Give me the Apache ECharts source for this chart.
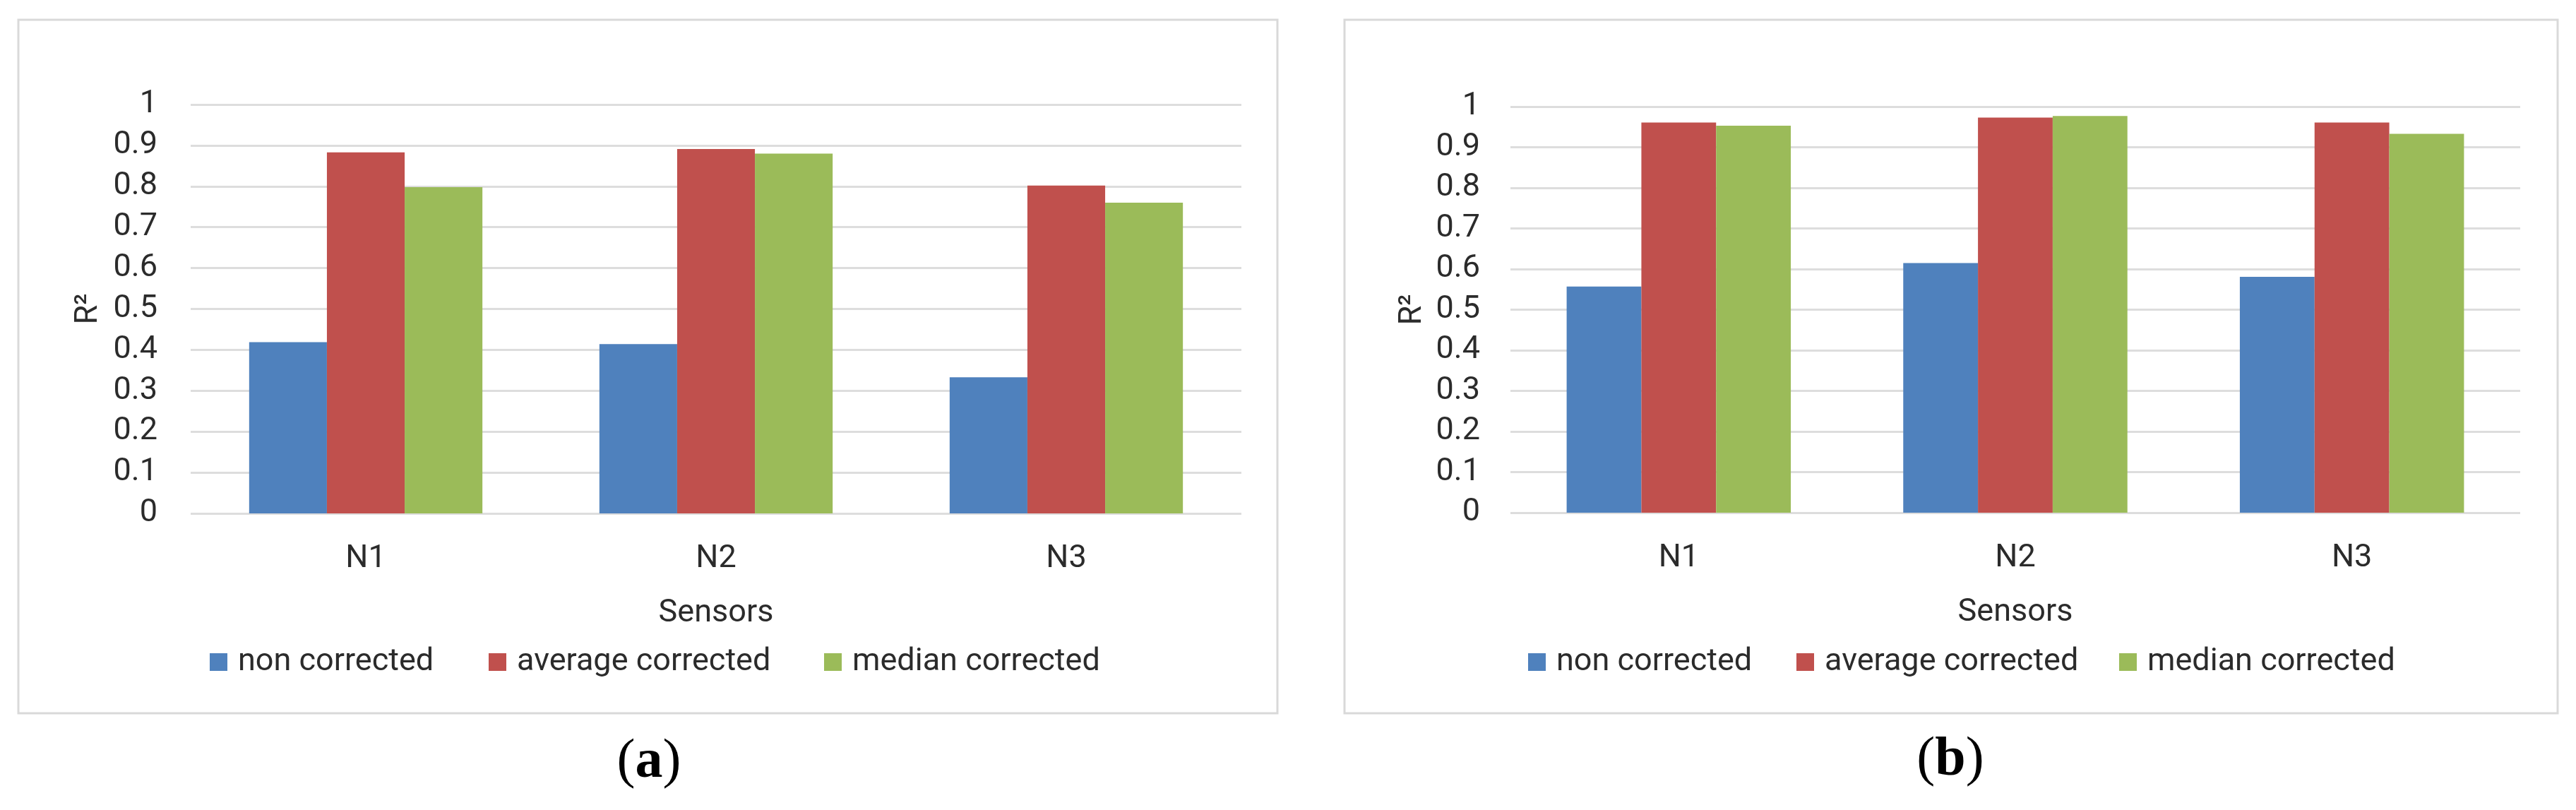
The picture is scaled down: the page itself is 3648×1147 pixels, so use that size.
<!DOCTYPE html>
<html>
<head>
<meta charset="utf-8">
<script src="https://cdn.jsdelivr.net/npm/echarts@6/dist/echarts.min.js"></script>
<style>
html,body{margin:0;padding:0;background:#fff;}
#c{width:3648px;height:1147px;}
</style>
</head>
<body>
<div id="c"></div>
<script>
// ---- data ----
const categories = ['N1', 'N2', 'N3'];
const seriesNames = ['non corrected', 'average corrected', 'median corrected'];
const yTicks = [0, 0.1, 0.2, 0.3, 0.4, 0.5, 0.6, 0.7, 0.8, 0.9, 1];
// panel (a)
const aNonCorrected = [0.419, 0.414, 0.333];
const aAverageCorrected = [0.883, 0.891, 0.802];
const aMedianCorrected = [0.798, 0.880, 0.760];
// panel (b)
const bNonCorrected = [0.557, 0.615, 0.581];
const bAverageCorrected = [0.961, 0.973, 0.961];
const bMedianCorrected = [0.953, 0.977, 0.933];
const xAxisTitle = 'Sensors';
const yAxisTitle = 'R²';
const captions = ['a', 'b'];

// ---- style ----
const colors = ['#4F81BD', '#C0504D', '#9BBB59'];
const FONT = "Roboto, 'Noto Sans', sans-serif";
const FS = 45;
const TXT = '#2b2b2b';
const GRIDC = '#DDDDDD';

const chart = echarts.init(document.getElementById('c'), null, {renderer: 'canvas'});

const panels = [
  {grid: {left: 270, right: 3648 - 1758, top: 148, bottom: 1147 - 727}, labelMargin: 47, nameGap: 122,
   data: [aNonCorrected, aAverageCorrected, aMedianCorrected], legendX: [297, 692, 1167], legendY: 915,
   border: [26, 28, 1809 - 26, 1010 - 28], cap: [919, 1080]},
  {grid: {left: 2139, right: 3648 - 3569, top: 151, bottom: 1147 - 726}, labelMargin: 43, nameGap: 116,
   data: [bNonCorrected, bAverageCorrected, bMedianCorrected], legendX: [2164, 2544, 3001], legendY: 915,
   border: [1904, 28, 3622 - 1904, 1010 - 28], cap: [2762, 1077]}
];

const option = {
  backgroundColor: '#fff',
  animation: false,
  grid: [], xAxis: [], yAxis: [], series: [], legend: [], graphic: []
};

panels.forEach((p, pi) => {
  option.grid.push(Object.assign({containLabel: false}, p.grid));
  option.xAxis.push({
    type: 'category', gridIndex: pi, data: categories,
    axisLine: {show: false}, axisTick: {show: false},
    axisLabel: {color: TXT, fontFamily: FONT, fontSize: FS, lineHeight: FS, margin: 42},
    name: xAxisTitle, nameLocation: 'middle', nameGap: 119,
    nameTextStyle: {color: TXT, fontFamily: FONT, fontSize: FS, lineHeight: FS}
  });
  option.yAxis.push({
    type: 'value', gridIndex: pi, min: yTicks[0], max: yTicks[yTicks.length - 1], interval: 0.1,
    axisLine: {show: false}, axisTick: {show: false},
    splitLine: {show: true, lineStyle: {color: GRIDC, width: 3}},
    axisLabel: {color: TXT, fontFamily: FONT, fontSize: FS, margin: p.labelMargin,
      formatter: v => String(Math.round(v * 10) / 10)},
    name: yAxisTitle, nameLocation: 'middle', nameGap: p.nameGap, nameRotate: 90,
    nameTextStyle: {color: TXT, fontFamily: FONT, fontSize: FS, lineHeight: FS}
  });
  p.data.forEach((d, si) => {
    option.series.push({
      type: 'bar', name: seriesNames[si] + (pi ? ' ' : ''), xAxisIndex: pi, yAxisIndex: pi,
      data: d, barGap: '0%', barCategoryGap: '33.4%',
      itemStyle: {color: colors[si]}, emphasis: {disabled: true}
    });
    option.legend.push({
      data: [seriesNames[si] + (pi ? ' ' : '')], left: p.legendX[si], top: p.legendY,
      itemWidth: 25, itemHeight: 25, icon: 'rect', selectedMode: false, padding: 0,
      textStyle: {color: TXT, fontFamily: FONT, fontSize: FS, lineHeight: FS, padding: [0, 0, 0, 10]},
      formatter: n => n.trim()
    });
  });
  option.graphic.push({
    type: 'rect', silent: true, z: -1,
    shape: {x: p.border[0], y: p.border[1], width: p.border[2], height: p.border[3]},
    style: {fill: '#fff', stroke: '#D9D9D9', lineWidth: 3}
  });
  option.graphic.push({
    type: 'text', silent: true, x: p.cap[0], y: p.cap[1],
    style: {
      text: '{p|(}{b|' + captions[pi] + '}{p|)}', align: 'center', verticalAlign: 'middle',
      rich: {
        p: {fontFamily: "'Liberation Serif', 'DejaVu Serif', serif", fontSize: 78, fill: '#000'},
        b: {fontFamily: "'Liberation Serif', 'DejaVu Serif', serif", fontSize: 78, fontWeight: 'bold', fill: '#000'}
      }
    }
  });
});

chart.setOption(option);
</script>
</body>
</html>
